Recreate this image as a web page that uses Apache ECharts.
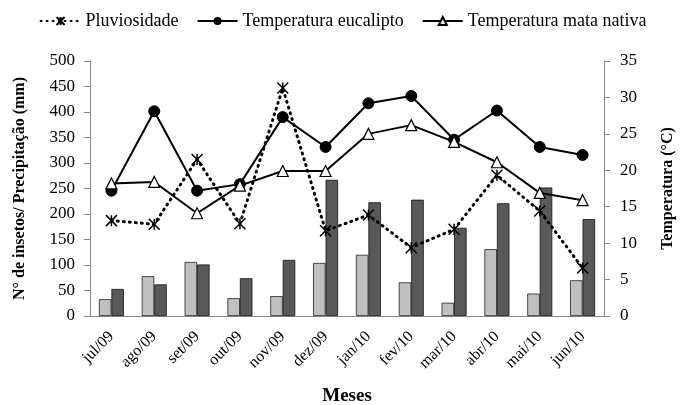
<!DOCTYPE html>
<html><head><meta charset="utf-8">
<script src="https://cdn.jsdelivr.net/npm/echarts@6/dist/echarts.min.js"></script>
<style>html,body{margin:0;padding:0;background:#fff}#c{width:686px;height:405px}</style>
</head><body><div id="c"></div>
<script>
const categories = ['jul/09','ago/09','set/09','out/09','nov/09','dez/09','jan/10','fev/10','mar/10','abr/10','mai/10','jun/10'];
const insetosEucalipto = [33, 78, 106, 35, 39, 104, 120, 66, 26, 131, 44, 70];
const insetosMata = [53, 62, 101, 74, 110, 267, 223, 228, 173, 221, 252, 190];
const pluviosidade = [187, 180, 307, 181, 447, 167, 198, 134, 170, 276, 206, 94];
const tempEucalipto = [17.2, 28.1, 17.2, 18.1, 27.3, 23.2, 29.2, 30.2, 24.2, 28.2, 23.2, 22.1];
const tempMata = [18.2, 18.4, 14.1, 17.9, 19.9, 19.9, 25.0, 26.2, 23.9, 21.1, 16.9, 15.9];

const F = 'Liberation Serif';
const chart = echarts.init(document.getElementById('c'));
chart.setOption({
  animation: false,
  textStyle: {fontFamily: F},
  legend: {
    data: ['Pluviosidade', 'Temperatura eucalipto', 'Temperatura mata nativa'],
    top: 7, left: 'center', itemWidth: 40, itemHeight: 10, itemGap: 18,
    textStyle: {fontFamily: F, fontSize: 18, color: '#000'}
  },
  grid: {left: 90, right: 82, top: 61, bottom: 89, outerBoundsMode: 'none', containLabel: false},
  xAxis: {
    type: 'category', data: categories,
    name: 'Meses', nameLocation: 'middle', nameGap: 71,
    nameTextStyle: {fontFamily: F, fontSize: 19, fontWeight: 'bold', color: '#000'},
    axisLine: {lineStyle: {color: '#888'}},
    axisTick: {lineStyle: {color: '#888'}, length: 6},
    axisLabel: {rotate: 45, fontFamily: F, fontSize: 16, color: '#000', interval: 0, margin: 18}
  },
  yAxis: [{
    type: 'value', min: 0, max: 500, interval: 50,
    name: 'N° de insetos/ Precipitação (mm)', nameLocation: 'middle', nameRotate: 90, nameGap: 62,
    nameTextStyle: {fontFamily: F, fontSize: 16, fontWeight: 'bold', color: '#000'},
    axisLine: {show: true, lineStyle: {color: '#888'}},
    axisTick: {show: true, lineStyle: {color: '#888'}, length: 6},
    splitLine: {show: false},
    axisLabel: {fontFamily: F, fontSize: 17, color: '#000', margin: 15}
  }, {
    type: 'value', min: 0, max: 35, interval: 5,
    name: 'Temperatura (°C)', nameLocation: 'middle', nameRotate: 90, nameGap: 56,
    nameTextStyle: {fontFamily: F, fontSize: 16, fontWeight: 'bold', color: '#000'},
    axisLine: {show: true, lineStyle: {color: '#888'}},
    axisTick: {show: true, lineStyle: {color: '#888'}, length: 6},
    splitLine: {show: false},
    axisLabel: {fontFamily: F, fontSize: 17, color: '#000', margin: 16}
  }],
  series: [{
    name: 'Insetos eucalipto', type: 'bar', data: insetosEucalipto, yAxisIndex: 0,
    barWidth: 12.5, barGap: '0%',
    itemStyle: {color: '#c0c0c0', borderColor: '#222', borderWidth: 0.8}
  }, {
    name: 'Insetos mata nativa', type: 'bar', data: insetosMata, yAxisIndex: 0,
    barWidth: 12.5, barGap: '0%',
    itemStyle: {color: '#595959', borderColor: '#111', borderWidth: 0.8}
  }, {
    name: 'Pluviosidade', type: 'line', data: pluviosidade, yAxisIndex: 0,
    symbol: 'path://M0,0L10,10M10,0L0,10M5,0L5,10', symbolSize: 11,
    lineStyle: {color: '#000', width: 3, type: [1, 5], cap: 'round'},
    itemStyle: {color: 'rgba(0,0,0,0)', borderColor: '#000', borderWidth: 1.5}
  }, {
    name: 'Temperatura eucalipto', type: 'line', data: tempEucalipto, yAxisIndex: 1,
    symbol: 'circle', symbolSize: 11,
    lineStyle: {color: '#000', width: 2},
    itemStyle: {color: '#000', borderColor: '#000'}
  }, {
    name: 'Temperatura mata nativa', type: 'line', data: tempMata, yAxisIndex: 1,
    symbol: 'triangle', symbolSize: 11,
    lineStyle: {color: '#000', width: 2},
    itemStyle: {color: '#fff', borderColor: '#000', borderWidth: 1.2}
  }]
});
</script></body></html>
